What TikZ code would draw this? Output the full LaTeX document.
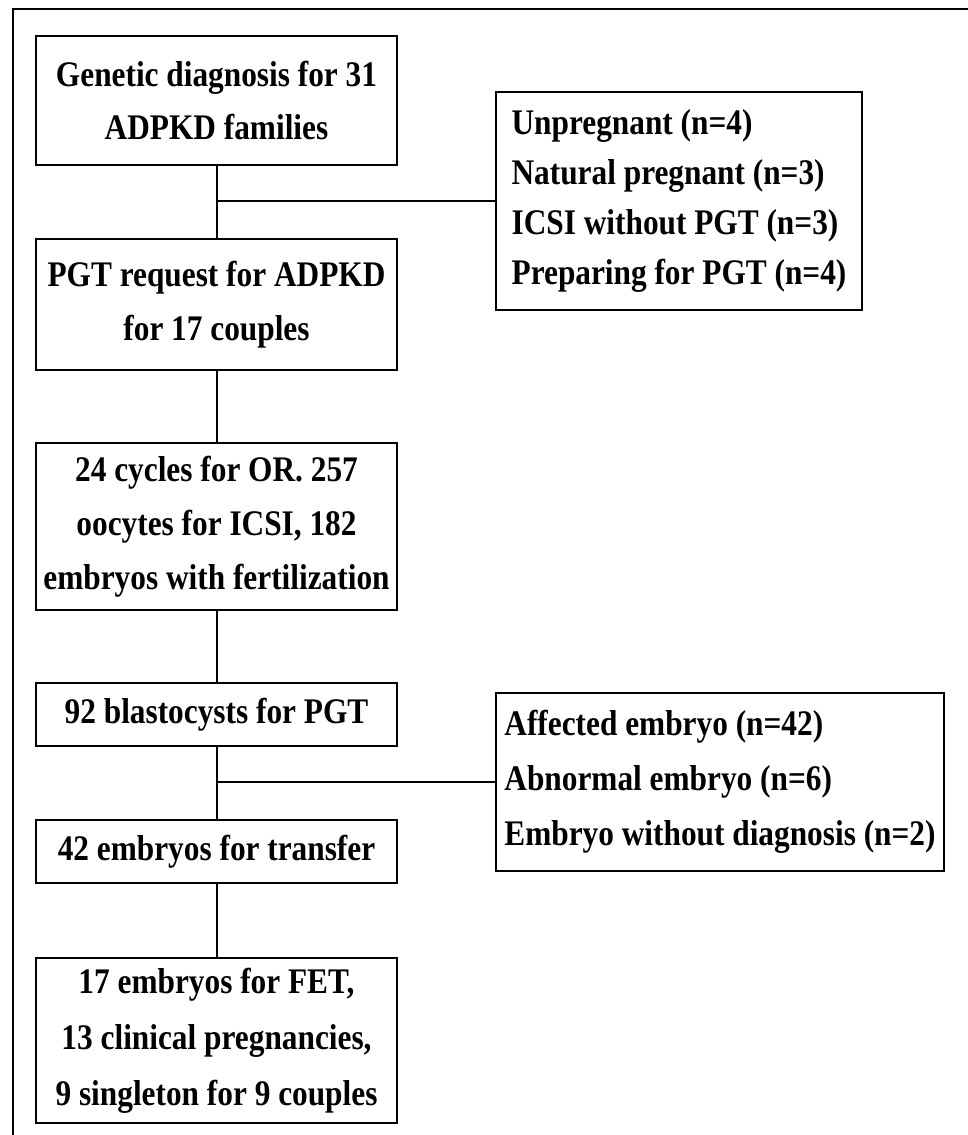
\documentclass[tikz,border=0pt]{standalone}
\usepackage{fontspec}
\setmainfont{Liberation Serif}[FakeStretch=0.87]
\begin{document}
\begin{tikzpicture}[x=1pt, y=-1pt, line width=2pt,
    box/.style={draw, rectangle, inner sep=0pt, align=center,
      font=\bfseries\fontsize{36}{54}\selectfont},
    sidebox/.style={box, align=left}]
    \useasboundingbox (0,0) rectangle (968,1135);

    %frame
    \draw (968,9) -- (13,9) -- (13,1135);

    %main boxes
    \node[box, minimum width=361pt, minimum height=129pt] (gen) at (216.5,100.5)
      {Genetic diagnosis for 31\\ADPKD families};
    \node[box, minimum width=361pt, minimum height=131pt] (req) at (216.5,304.5)
      {PGT request for ADPKD\\for 17 couples};
    \node[box, minimum width=361pt, minimum height=167pt] (cyc) at (216.5,526.5)
      {24 cycles for OR. 257\\oocytes for ICSI, 182\\embryos with fertilization};
    \node[box, minimum width=361pt, minimum height=63pt] (blast) at (216.5,714.5)
      {92 blastocysts for PGT};
    \node[box, minimum width=361pt, minimum height=63pt] (trans) at (216.5,851.5)
      {42 embryos for transfer};
    \node[box, minimum width=361pt, minimum height=165pt,
      font=\bfseries\fontsize{36}{56}\selectfont] (fet) at (216.5,1040.5)
      {17 embryos for FET,\\13 clinical pregnancies,\\9 singleton for 9 couples};

    %side boxes
    \node[sidebox, minimum width=366pt, minimum height=218pt,
      font=\bfseries\fontsize{36}{50}\selectfont] (out1) at (679,201)
      {Unpregnant (n=4)\\Natural pregnant (n=3)\\ICSI without PGT (n=3)\\Preparing for PGT (n=4)};
    \node[sidebox, minimum width=448pt, minimum height=178pt,
      font=\bfseries\fontsize{36}{55}\selectfont] (out2) at (720,782)
      {Affected embryo (n=42)\\Abnormal embryo (n=6)\\Embryo without diagnosis (n=2)};

    %connectors
    \draw (gen) -- (req);
    \draw (req) -- (cyc);
    \draw (cyc) -- (blast);
    \draw (blast) -- (trans);
    \draw (trans) -- (fet);
    \draw (gen.south |- out1.west) -- (out1.west);
    \draw (blast.south |- out2.west) -- (out2.west);
\end{tikzpicture}
\end{document}
